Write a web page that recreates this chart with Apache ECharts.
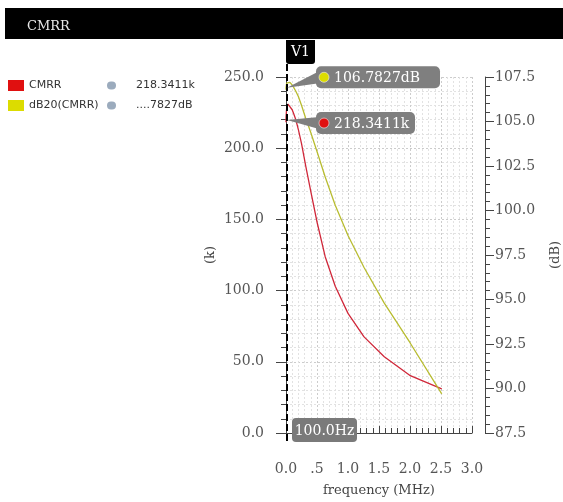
<!DOCTYPE html>
<html>
<head>
<meta charset="utf-8">
<script src="https://cdn.jsdelivr.net/npm/echarts@6/dist/echarts.min.js"></script>
<style>
html,body{margin:0;padding:0;background:#fff;}
#chart{width:563px;height:502px;}
</style>
</head>
<body>
<div id="chart"></div>
<script>
// ---- data ----
const freqMHz = [0.0001, 0.001, 0.01, 0.0316, 0.0631, 0.1, 0.1259, 0.1585, 0.1995, 0.2512, 0.3162, 0.3981, 0.5012, 0.631, 0.7943, 1.0, 1.259, 1.585, 1.995, 2.512];
const cmrrK = [218.3, 222, 228, 231, 230, 227, 224, 220, 213, 203, 188, 170, 148, 124, 103, 84, 67.5, 53.5, 40.5, 31];
const cmrrDb = [106.78, 106.9, 107.15, 107.25, 107.2, 107.05, 106.9, 106.7, 106.4, 105.9, 105.2, 104.4, 103.3, 101.9, 100.3, 98.6, 96.8, 94.8, 92.6, 89.7];
const seriesNames = ['CMRR', 'dB20(CMRR)'];
const legendValues = ['218.3411k', '....7827dB'];
const chartTitle = 'CMRR';
const cursorName = 'V1';
const cursorFreq = 0.0001;
const cursorLabel = '100.0Hz';
const markerK = 218.3411;
const markerKText = '218.3411k';
const markerDb = 106.7827;
const markerDbText = '106.7827dB';
const xTicks = {min: 0, max: 3, interval: 0.5};
const yLeftTicks = {min: 0, max: 250, interval: 50};
const yRightTicks = {min: 87.5, max: 107.5, interval: 2.5};

const RED = '#e01010';
const YEL = '#dcdc00';
const SERIF = '"DejaVu Serif", serif';
const SANS = '"DejaVu Sans", sans-serif';

const chart = echarts.init(document.getElementById('chart'), null, {renderer: 'canvas'});

function calloutRender(cfg) {
  return function (params, api) {
    const p = api.coord([api.value(0), api.value(1)]);
    const bx = p[0] + 30;
    const cy = p[1] + cfg.dy;
    const h = 22;
    return {
      type: 'group',
      children: [
        {type: 'polygon', shape: {points: [[p[0] + 1, p[1] - 2], [bx + 3, cy - 6], [bx + 3, cy + 6]]}, style: {fill: '#7f7f7f'}},
        {type: 'rect', shape: {x: bx, y: cy - h / 2, width: cfg.w, height: h, r: 5}, style: {fill: '#7f7f7f'}},
        {type: 'circle', shape: {cx: bx + 8, cy: cy, r: 5}, style: {fill: cfg.color, stroke: '#f0f0f0', lineWidth: 0.6}},
        {type: 'text', x: bx + 18, y: cy + 1, style: {text: cfg.text, fill: '#ffffff', font: '14px ' + SERIF, verticalAlign: 'middle', align: 'left'}}
      ]
    };
  };
}

function cursorRender(params, api) {
  const bottom = api.coord([api.value(0), yLeftTicks.min]);
  const top = api.coord([api.value(0), yLeftTicks.max]);
  const x = bottom[0] + 1;
  return {
    type: 'group',
    children: [
      {type: 'line', shape: {x1: x, y1: top[1] - 13, x2: x, y2: bottom[1] + 9}, style: {stroke: '#000', lineWidth: 2, lineDash: [7, 3]}},
      {type: 'rect', shape: {x: x - 1, y: top[1] - 37, width: 29, height: 24, r: [0, 0, 3, 3]}, style: {fill: '#000'}},
      {type: 'text', x: x + 13.5, y: top[1] - 25, style: {text: cursorName, fill: '#fff', font: '14px ' + SERIF, align: 'center', verticalAlign: 'middle'}},
      {type: 'rect', shape: {x: x + 5, y: bottom[1] - 15, width: 65, height: 24, r: 4}, style: {fill: '#7a7a7a'}},
      {type: 'text', x: x + 37.5, y: bottom[1] - 2, style: {text: cursorLabel, fill: '#fff', font: '14px ' + SERIF, align: 'center', verticalAlign: 'middle'}}
    ]
  };
}

const axisLabelFont = {fontFamily: SERIF, fontSize: 14, color: '#555'};

const option = {
  animation: false,
  backgroundColor: '#ffffff',
  graphic: [
    {type: 'rect', left: 5, top: 8, shape: {width: 558, height: 31}, style: {fill: '#000'}, z: 0},
    {type: 'text', left: 27, top: 20, style: {text: chartTitle, fill: '#e8e8e8', font: '13px ' + SERIF}, z: 1}
  ],
  legend: {
    orient: 'vertical',
    left: 8,
    top: 80,
    padding: 0,
    itemWidth: 16,
    itemHeight: 11,
    itemGap: 9,
    icon: 'rect',
    data: seriesNames,
    formatter: function (name) {
      const i = seriesNames.indexOf(name);
      return '{n|' + name + '}{i|}{s|}{v|' + legendValues[i] + '}';
    },
    textStyle: {
      fontFamily: SANS,
      fontSize: 11,
      color: '#333',
      rich: {
        n: {width: 78, fontFamily: SANS, fontSize: 11, color: '#333'},
        i: {width: 9, height: 8, borderRadius: 4, backgroundColor: '#9babbd'},
        s: {width: 20},
        v: {fontFamily: SANS, fontSize: 11, color: '#333'}
      }
    }
  },
  grid: {left: 286, right: 85, top: 77, bottom: 65, containLabel: false},
  xAxis: {
    type: 'value',
    min: xTicks.min,
    max: xTicks.max,
    interval: xTicks.interval,
    offset: 17,
    name: 'frequency (MHz)',
    nameLocation: 'middle',
    nameGap: 34,
    nameTextStyle: {fontFamily: SERIF, fontSize: 13, color: '#444'},
    axisLine: {show: true, lineStyle: {color: '#444', width: 1}},
    axisTick: {show: true, inside: true, length: 7, lineStyle: {color: '#444'}},
    minorTick: {show: true, splitNumber: 5, length: 5, lineStyle: {color: '#444'}},
    axisLabel: Object.assign({margin: 12, formatter: function (v) { return v === 0.5 ? '.5' : v.toFixed(1); }}, axisLabelFont),
    splitLine: {show: true, lineStyle: {color: '#cccccc', type: [2, 2], width: 1}},
    minorSplitLine: {show: true, lineStyle: {color: '#e2e2e2', type: [2, 2], width: 1}}
  },
  yAxis: [
    {
      type: 'value',
      position: 'left',
      min: yLeftTicks.min,
      max: yLeftTicks.max,
      interval: yLeftTicks.interval,
      offset: 9,
      name: '(k)',
      nameLocation: 'middle',
      nameRotate: 90,
      nameGap: 60,
      nameTextStyle: {fontFamily: SERIF, fontSize: 13, color: '#444'},
      axisLine: {show: true, lineStyle: {color: '#444'}},
      axisTick: {show: true, length: 10, lineStyle: {color: '#444'}},
      minorTick: {show: true, splitNumber: 5, length: 5, lineStyle: {color: '#444'}},
      axisLabel: Object.assign({margin: 13, formatter: function (v) { return v.toFixed(1); }}, axisLabelFont),
      splitLine: {show: true, lineStyle: {color: '#cccccc', type: [2, 2], width: 1}},
      minorSplitLine: {show: true, lineStyle: {color: '#e2e2e2', type: [2, 2], width: 1}}
    },
    {
      type: 'value',
      position: 'right',
      min: yRightTicks.min,
      max: yRightTicks.max,
      interval: yRightTicks.interval,
      offset: 13,
      name: '(dB)',
      nameLocation: 'middle',
      nameRotate: 90,
      nameGap: 64,
      nameTextStyle: {fontFamily: SERIF, fontSize: 13, color: '#444'},
      axisLine: {show: true, lineStyle: {color: '#444'}},
      axisTick: {show: true, length: 9, lineStyle: {color: '#444'}},
      minorTick: {show: true, splitNumber: 5, length: 5, lineStyle: {color: '#444'}},
      axisLabel: Object.assign({margin: 10, formatter: function (v) { return v.toFixed(1); }}, axisLabelFont),
      splitLine: {show: false},
      minorSplitLine: {show: false}
    }
  ],
  series: [
    {
      name: seriesNames[0],
      type: 'line',
      yAxisIndex: 0,
      data: freqMHz.map((f, i) => [f, cmrrK[i]]),
      showSymbol: false,
      symbol: 'none',
      itemStyle: {color: RED},
      lineStyle: {color: '#d0283a', width: 1.3},
      z: 3
    },
    {
      name: seriesNames[1],
      type: 'line',
      yAxisIndex: 1,
      data: freqMHz.map((f, i) => [f, cmrrDb[i]]),
      showSymbol: false,
      symbol: 'none',
      itemStyle: {color: YEL},
      lineStyle: {color: '#b8bc30', width: 1.3},
      z: 3
    },
    {
      type: 'custom',
      yAxisIndex: 0,
      data: [[cursorFreq, yLeftTicks.min]],
      renderItem: cursorRender,
      silent: true,
      z: 5
    },
    {
      type: 'custom',
      yAxisIndex: 0,
      data: [[cursorFreq, markerK]],
      renderItem: calloutRender({dy: 1, w: 99, color: RED, text: markerKText}),
      silent: true,
      z: 6
    },
    {
      type: 'custom',
      yAxisIndex: 1,
      data: [[cursorFreq, markerDb]],
      renderItem: calloutRender({dy: -12.5, w: 124, color: YEL, text: markerDbText}),
      silent: true,
      z: 6
    }
  ]
};
chart.setOption(option);
</script>
</body>
</html>
